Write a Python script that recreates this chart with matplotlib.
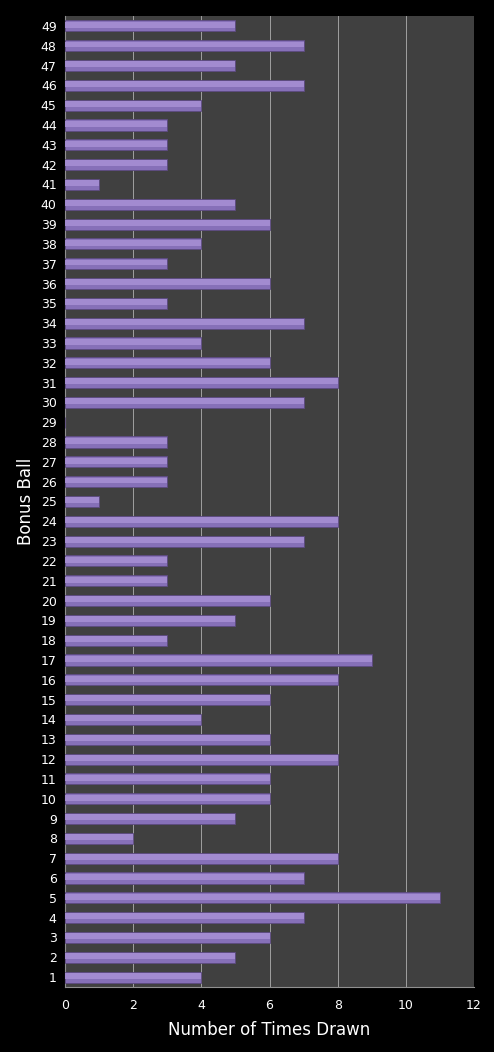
import matplotlib
matplotlib.use('Agg')
import matplotlib.pyplot as plt
import numpy as np

balls = list(range(1, 50))
times_drawn = [4, 5, 6, 7, 11, 7, 8, 2, 5, 6,
               6, 8, 6, 4, 6, 8, 9, 3, 5, 6,
               3, 3, 7, 8, 1, 3, 3, 3, 0, 7,
               8, 6, 4, 7, 3, 6, 3, 4, 6, 5,
               1, 3, 3, 3, 4, 7, 5, 7, 5]
xticks = [0, 2, 4, 6, 8, 10, 12]

fig = plt.figure(figsize=(4.94, 10.52), dpi=100, facecolor='black')
ax = fig.add_axes([0.1316, 0.0618, 0.8279, 0.923])
ax.set_facecolor('#404040')

y = np.array(balls)
vals = np.array(times_drawn)
# base bar plus lighter top strip for the bevel look
ax.barh(y, vals, height=0.56, color='#8670b8', edgecolor='#5c4a80', linewidth=0.6, zorder=3)
ax.barh(y + 0.06, vals, height=0.30, color='#a28bd0', linewidth=0, zorder=4)

ax.set_xlim(0, 12)
ax.set_ylim(0.5, 49.5)
ax.set_xticks(xticks)
ax.set_yticks(balls)
ax.grid(axis='x', color='#a0a0a0', linewidth=0.7, zorder=1)
ax.set_axisbelow(True)

for s in ['top', 'right']:
    ax.spines[s].set_visible(False)
for s in ['left', 'bottom']:
    ax.spines[s].set_color('#909090')

ax.tick_params(colors='white', labelsize=9, length=0, pad=6)
ax.tick_params(axis='x', pad=9)
ax.set_xlabel('Number of Times Drawn', color='white', fontsize=12, labelpad=6)
ax.set_ylabel('Bonus Ball', color='white', fontsize=12, labelpad=4)

fig.savefig('out.png', dpi=100, facecolor='black')
